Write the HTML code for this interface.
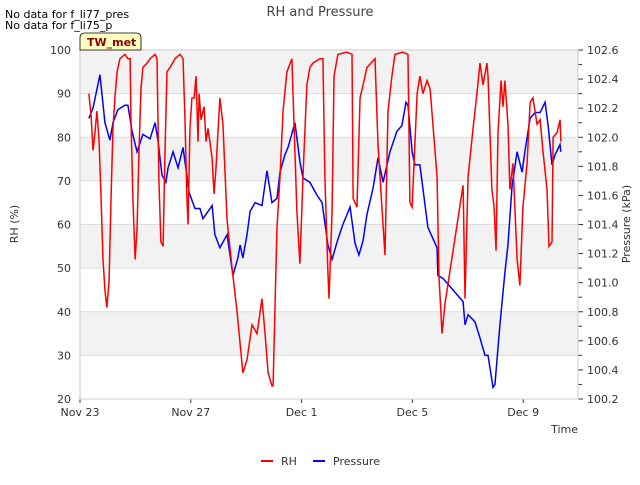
<!DOCTYPE html>
<html><head><meta charset="utf-8"><style>
body{margin:0;background:#fff;font-family:"Liberation Sans","DejaVu Sans",sans-serif}
svg text{font-family:"DejaVu Sans","Liberation Sans",sans-serif}
</style></head><body>
<svg id="c" width="640" height="480" xmlns="http://www.w3.org/2000/svg">
<text x="320" y="16" text-anchor="middle" font-size="13" fill="#444">RH and Pressure</text>
<text x="5" y="18" font-size="11" fill="#000">No data for f_li77_pres</text>
<text x="5" y="29" font-size="11" fill="#000">No data for f_li75_p</text>
<text x="18" y="224" font-size="11" fill="#333" transform="rotate(-90 18 224)" text-anchor="middle">RH (%)</text>
<text x="630" y="224" font-size="11" fill="#333" transform="rotate(-90 630 224)" text-anchor="middle">Pressure (kPa)</text>
<text x="578" y="433" font-size="11" fill="#333" text-anchor="end">Time</text>
<g id="plot"></g>
<g>
<line x1="261" y1="461" x2="273" y2="461" stroke="#f00" stroke-width="2"/>
<text x="281" y="465" font-size="11" fill="#333">RH</text>
<line x1="313" y1="461" x2="325" y2="461" stroke="#00f" stroke-width="2"/>
<text x="333" y="465" font-size="11" fill="#333">Pressure</text>
</g>
<g>
<path d="M80,50 L80,38 Q80,33 85,33 L136,33 Q141,33 141,38 L141,50 Z" fill="#ffffc0" stroke="#000" stroke-width="0.8"/>
<text x="87" y="46" font-size="11" font-weight="bold" fill="#8b0000">TW_met</text>
</g>
</svg>
<script>
const xTickDays=[0,4,8,12,16];
const xTickLabels=["Nov 23","Nov 27","Dec 1","Dec 5","Dec 9"];
const rhTicks=[20,30,40,50,60,70,80,90,100];
const pTicks=[100.2,100.4,100.6,100.8,101.0,101.2,101.4,101.6,101.8,102.0,102.2,102.4,102.6];
const rhDays=[.32,.40,.47,.54,.61,.69,.76,.83,.90,.97,1.05,1.12,1.19,1.26,1.34,1.44,1.62,1.73,1.81,1.84,1.91,1.99,2.06,2.13,2.20,2.27,2.42,2.53,2.71,2.78,2.85,2.92,3.00,3.07,3.14,3.25,3.43,3.61,3.72,3.79,3.86,3.90,3.97,4.04,4.12,4.19,4.26,4.30,4.37,4.48,4.55,4.62,4.69,4.77,4.84,4.91,5.05,5.16,5.31,5.49,5.67,5.88,6.03,6.21,6.39,6.57,6.68,6.79,6.93,6.97,7.11,7.22,7.33,7.47,7.65,7.69,7.83,7.94,8.05,8.19,8.30,8.41,8.66,8.77,8.84,8.95,8.99,9.10,9.17,9.31,9.64,9.82,9.86,10.0,10.11,10.22,10.36,10.65,10.76,10.90,11.01,11.12,11.26,11.37,11.66,11.84,11.91,11.99,12.17,12.27,12.38,12.53,12.64,12.89,12.96,13.07,13.18,13.83,13.90,14.01,14.19,14.33,14.44,14.55,14.69,14.73,14.87,14.95,15.02,15.09,15.20,15.27,15.34,15.45,15.52,15.63,15.78,15.88,15.99,16.14,16.25,16.35,16.50,16.61,16.71,16.86,16.93,17.04,17.08,17.22,17.33,17.36];
const rhValues=[90,85,77,81,86,79,66,52,45,41,47,66,82,89,95,98,99,98,98,84,66,52,59,77,91,96,97,98,99,98,70,56,55,77,95,96,98,99,98,84,66,60,82,89,89,94,79,90,84,87,79,82,79,75,67,73,89,83,61,50,40,26,29,37,35,43,35,26,23,23,59,71,86,95,98,90,63,51,71,92,96,97,98,98,71,49,43,63,94,99,99.5,99,66,64,89,92,96,98,78,64,53,86,94,99,99.5,99,65,64,90,94,90,93,91,71,48,35,42,69,43,71,82,90,97,92,97,94,68,64,54,81,93,87,93,83,68,74,52,46,64,74,88,89,83,84,77,68,55,56,80,81,84,79];
const pDays=[.32,.47,.72,.90,1.08,1.19,1.37,1.62,1.73,1.88,2.06,2.27,2.53,2.71,2.82,2.96,3.10,3.18,3.36,3.54,3.72,3.94,4.15,4.33,4.44,4.77,4.87,5.05,5.31,5.52,5.70,5.78,5.88,6.03,6.14,6.32,6.57,6.75,6.93,7.11,7.22,7.40,7.51,7.76,7.94,8.05,8.30,8.56,8.74,8.95,9.10,9.28,9.49,9.75,9.93,10.07,10.22,10.36,10.58,10.76,10.94,11.19,11.44,11.62,11.77,11.84,11.99,12.09,12.27,12.56,12.89,12.92,13.10,13.83,13.90,14.01,14.26,14.44,14.62,14.73,14.91,14.98,15.16,15.34,15.45,15.60,15.78,15.96,16.06,16.25,16.43,16.61,16.79,16.90,17.04,17.15,17.33,17.36];
const pValues=[102.13,102.20,102.43,102.10,101.98,102.10,102.19,102.22,102.22,102.04,101.90,102.02,101.99,102.10,101.97,101.74,101.69,101.79,101.90,101.79,101.93,101.62,101.51,101.51,101.44,101.53,101.33,101.24,101.33,101.05,101.17,101.26,101.17,101.33,101.49,101.55,101.53,101.77,101.55,101.58,101.76,101.88,101.93,102.10,101.83,101.72,101.69,101.60,101.55,101.26,101.16,101.28,101.40,101.52,101.27,101.19,101.29,101.47,101.65,101.86,101.69,101.90,102.04,102.08,102.24,102.22,101.90,101.81,101.81,101.38,101.24,101.05,101.03,100.87,100.71,100.78,100.73,100.62,100.50,100.50,100.28,100.30,100.71,101.07,101.26,101.67,101.90,101.76,101.90,102.13,102.17,102.17,102.24,102.08,101.81,101.88,101.95,101.90];

const L=80,R=578,T=50,B=399,NS="http://www.w3.org/2000/svg";
const xs=d=>L+d*27.7;
const yRH=v=>B-(v-20)/80*(B-T);
const yP=v=>B-(v-100.2)/2.4*(B-T);
const g=document.getElementById('plot');
function mk(tag,attrs){const e=document.createElementNS(NS,tag);for(const k in attrs)e.setAttribute(k,attrs[k]);g.appendChild(e);return e;}
const bg=mk('rect',{x:L,y:T,width:R-L,height:B-T,fill:'#fff'});


for(let v=90;v>=30;v-=20){const b=mk('rect',{x:L,y:yRH(v+10),width:R-L,height:yRH(v)-yRH(v+10),fill:'#f2f2f2'});

}
rhTicks.forEach(v=>{const l=mk('line',{x1:L,x2:R,y1:yRH(v),y2:yRH(v),stroke:'#dcdcdc','stroke-width':1});


const t=mk('text',{x:L-9,y:yRH(v)+4,'font-size':11,fill:'#333','text-anchor':'end'});t.textContent=v;

});
for(let i=0;i<=24;i++){const v=100.2+i*0.1;const tk=mk('line',{x1:R,x2:R+(i%2?4:5),y1:yP(v),y2:yP(v),stroke:'#333'});

}
pTicks.forEach(v=>{const t=mk('text',{x:R+9,y:yP(v)+4,'font-size':11,fill:'#333'});t.textContent=v.toFixed(1);

});
xTickDays.forEach((d,i)=>{const tk=mk('line',{x1:xs(d),x2:xs(d),y1:B,y2:B+4,stroke:'#333'});


const t=mk('text',{x:xs(d),y:B+17,'font-size':11,fill:'#333','text-anchor':'middle'});t.textContent=xTickLabels[i];

});
const pp=mk('polyline',{points:pDays.map((d,i)=>xs(d)+','+yP(pValues[i])).join(' '),fill:'none',stroke:'#00f','stroke-width':1.5});


const rp=mk('polyline',{points:rhDays.map((d,i)=>xs(d)+','+yRH(rhValues[i])).join(' '),fill:'none',stroke:'#f00','stroke-width':1.5});


const fr=mk('rect',{x:L,y:T,width:R-L,height:B-T,fill:'none',stroke:'#ccc'});


</script>
</body></html>
